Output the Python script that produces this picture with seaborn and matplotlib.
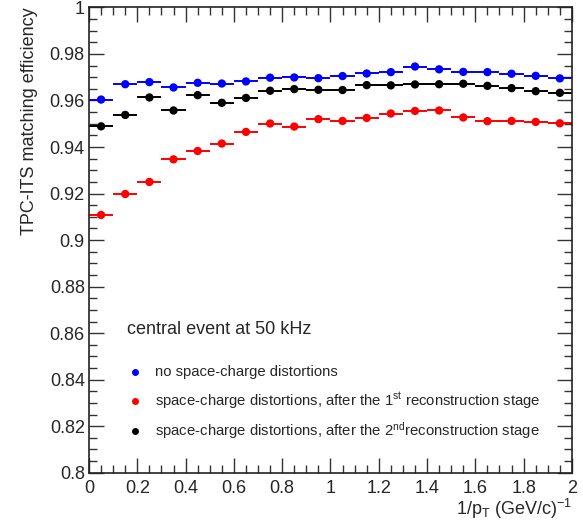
import numpy as np
import pandas as pd
import matplotlib
matplotlib.use("Agg")
import matplotlib.pyplot as plt
import seaborn as sns

# bin centres in 1/pT (GeV/c)^-1, width 0.1
inv_pt = [0.05, 0.15, 0.25, 0.35, 0.45, 0.55, 0.65, 0.75, 0.85, 0.95,
          1.05, 1.15, 1.25, 1.35, 1.45, 1.55, 1.65, 1.75, 1.85, 1.95]
bin_half_width = 0.05

eff_no_sc = [0.9604, 0.9670, 0.9679, 0.9656, 0.9676, 0.9673, 0.9682, 0.9698, 0.9699, 0.9696,
             0.9705, 0.9716, 0.9722, 0.9746, 0.9734, 0.9723, 0.9722, 0.9715, 0.9706, 0.9695]
eff_stage1 = [0.9108, 0.9198, 0.9250, 0.9347, 0.9383, 0.9415, 0.9465, 0.9501, 0.9488, 0.9520,
              0.9512, 0.9525, 0.9544, 0.9555, 0.9557, 0.9527, 0.9511, 0.9512, 0.9508, 0.9502]
eff_stage2 = [0.9489, 0.9538, 0.9613, 0.9557, 0.9623, 0.9590, 0.9611, 0.9642, 0.9649, 0.9646,
              0.9645, 0.9666, 0.9665, 0.9669, 0.9670, 0.9672, 0.9663, 0.9653, 0.9640, 0.9633]

err_no_sc = [0.0005] * 20
err_stage1 = [0.0018, 0.0014, 0.0016, 0.0013, 0.0012, 0.0010, 0.0009, 0.0008, 0.0008, 0.0007,
              0.0007, 0.0007, 0.0006, 0.0006, 0.0006, 0.0006, 0.0006, 0.0006, 0.0006, 0.0006]
err_stage2 = [0.0006] * 20

labels = ["no space-charge distortions",
          "space-charge distortions, after the 1$^{\\mathregular{st}}$ reconstruction stage",
          "space-charge distortions, after the 2$^{\\mathregular{nd}}$reconstruction stage"]
colors = ["#0000ff", "#ff0000", "#000000"]

sns.set_theme(style="ticks")
plt.rcParams["font.family"] = ["Liberation Sans", "DejaVu Sans"]
plt.rcParams["mathtext.default"] = "regular"

df = pd.DataFrame({
    "x": inv_pt * 3,
    "eff": eff_no_sc + eff_stage1 + eff_stage2,
    "err": err_no_sc + err_stage1 + err_stage2,
    "series": [labels[0]] * 20 + [labels[1]] * 20 + [labels[2]] * 20,
})

fig = plt.figure(figsize=(5.83, 5.30), dpi=100)
ax = fig.add_axes([0.1527, 0.108, 0.8283, 0.878])

# error bars (full bin width horizontally)
for lab, col in zip(labels, colors):
    sub = df[df["series"] == lab]
    ax.errorbar(sub["x"], sub["eff"], xerr=bin_half_width, yerr=sub["err"],
                fmt="none", ecolor=col, elinewidth=1.4, capsize=0, zorder=2)

sns.scatterplot(data=df, x="x", y="eff", hue="series", hue_order=labels,
                palette=colors, s=36, edgecolor="none", legend=False, ax=ax, zorder=3)

ax.set_xlim(0, 2)
ax.set_ylim(0.8, 1.0)
ax.set_xticks(np.arange(0, 2.01, 0.2))
ax.set_xticklabels(["0", "0.2", "0.4", "0.6", "0.8", "1", "1.2", "1.4", "1.6", "1.8", "2"])
ax.set_xticks(np.arange(0, 2.001, 0.05), minor=True)
ax.set_yticks(np.arange(0.8, 1.001, 0.02))
ax.set_yticklabels(["0.8", "0.82", "0.84", "0.86", "0.88", "0.9", "0.92", "0.94", "0.96", "0.98", "1"])
ax.set_yticks(np.arange(0.8, 1.0001, 0.005), minor=True)

ax.tick_params(which="both", direction="in", top=True, right=True, labelsize=13, width=1.0, color="#333333")
ax.tick_params(axis="y", which="major", length=11, pad=3)
ax.tick_params(axis="y", which="minor", length=5.5)
ax.tick_params(axis="x", which="major", length=11, pad=5)
ax.tick_params(axis="x", which="minor", length=5.5)
for sp in ax.spines.values():
    sp.set_linewidth(1.2)
    sp.set_color("#222222")

ax.set_xlabel("1/p$_{\\mathregular{T}}$ (GeV/c)$^{\\mathregular{-1}}$", fontsize=13, loc="right", labelpad=0)
ax.set_ylabel("TPC-ITS matching efficiency", fontsize=13, loc="top", labelpad=8)

# legend block
ax.text(0.079, 0.307, "central event at 50 kHz", transform=ax.transAxes,
        fontsize=13, va="center", ha="left")
leg_y = [0.217, 0.154, 0.090]
for lab, col, yy in zip(labels, colors, leg_y):
    ax.plot([0.095], [yy], "o", color=col, markersize=4, transform=ax.transAxes, clip_on=False)
    ax.text(0.137, yy, lab, transform=ax.transAxes, fontsize=10.7, va="center", ha="left")

fig.savefig("out.png", dpi=100)
